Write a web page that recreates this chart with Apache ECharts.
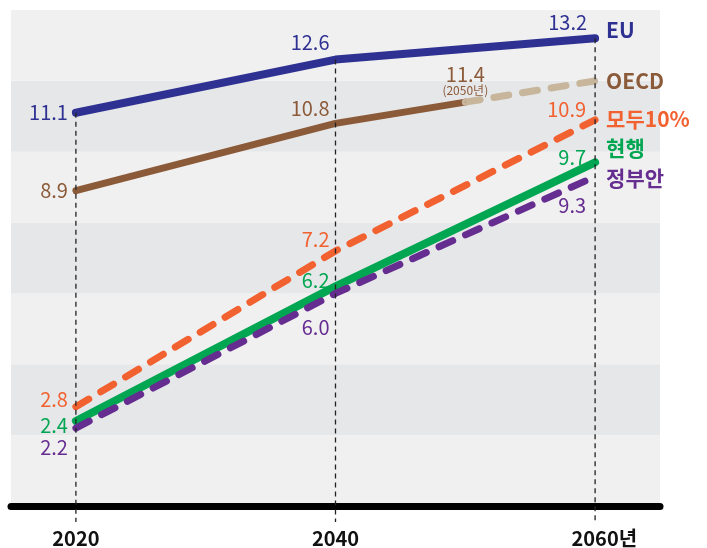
<!DOCTYPE html>
<html>
<head>
<meta charset="utf-8">
<script src="https://cdn.jsdelivr.net/npm/echarts@6/dist/echarts.min.js"></script>
<style>
    html, body { margin: 0; padding: 0; background: #fff; }
    #chart { width: 707px; height: 548px; }
</style>
</head>
<body>
<div id="chart"></div>
<script>
// 데이터
var years = [2020, 2040, 2060];
var xTickLabels = ['2020', '2040', '2060년'];
var euValues = [11.1, 12.6, 13.2];
var oecdYears = [2020, 2040, 2050];
var oecdValues = [8.9, 10.8, 11.4];
var oecdProjYears = [2050, 2060];
var oecdProjValues = [11.4, 12.0];
var allTenValues = [2.8, 7.2, 10.9];
var currentValues = [2.4, 6.2, 9.7];
var govValues = [2.2, 6.0, 9.3];

var FONT = '"Noto Sans CJK KR", "Noto Sans", sans-serif';

var dom = document.getElementById('chart');
var myChart = echarts.init(dom);

// 각 점의 값 라벨 (오른쪽 끝 기준)
function points(xs, ys, offsets, color) {
    var out = [];
    for (var i = 0; i < ys.length; i++) {
        var item = { value: [xs[i], ys[i]] };
        if (offsets[i]) {
            item.label = {
                show: true,
                position: 'inside',
                align: 'right',
                verticalAlign: 'middle',
                offset: offsets[i],
                color: color,
                fontSize: 20,
                fontFamily: FONT,
                formatter: ys[i].toFixed(1)
            };
        } else {
            item.label = { show: false };
        }
        out.push(item);
    }
    return out;
}

function lineSeries(name, data, color, width, dashed, endOffset, endColor) {
    return {
        name: name,
        type: 'line',
        data: data,
        symbol: 'circle',
        symbolSize: 1,
        itemStyle: { color: color },
        lineStyle: {
            color: color,
            width: width,
            type: dashed ? [15, 14] : 'solid',
            cap: 'round',
            join: 'round'
        },
        endLabel: endOffset ? {
            show: true,
            formatter: name,
            distance: 0,
            offset: endOffset,
            color: endColor || color,
            fontSize: 21,
            fontWeight: 'bold',
            fontFamily: FONT
        } : { show: false },
        label: { show: false },
        emphasis: { disabled: true },
        z: 3
    };
}

var oecdSolid = lineSeries('OECD', points(oecdYears, oecdValues, [[-8, 0], [-6, -15], null], '#8b5a38'), '#8b5a38', 7, false);
// 2050년 라벨
oecdSolid.data[2].label = {
    show: true,
    position: 'inside',
    align: 'center',
    verticalAlign: 'middle',
    offset: [0, -21],
    color: '#8b5a38',
    fontFamily: FONT,
    formatter: '{a|' + oecdValues[2].toFixed(1) + '}\n{b|(2050년)}',
    rich: {
        a: { fontSize: 20, lineHeight: 18, color: '#8b5a38', fontFamily: FONT },
        b: { fontSize: 12, lineHeight: 14, color: '#8b5a38', fontFamily: FONT }
    }
};

var oecdProj = lineSeries('OECD', points(oecdProjYears, oecdProjValues, [null, null], '#c8b69c'), '#c8b69c', 7, true, [11, 0], '#8b5a38');

var euSeries = lineSeries('EU', points(years, euValues, [[-8, 0], [-6, -17], [-8, -16]], '#2e3192'), '#2e3192', 8, false, [11, -8]);
var allTenSeries = lineSeries('모두10%', points(years, allTenValues, [[-8, -7], [-6, -12], [-9, -10]], '#f26130'), '#f26130', 7, true, [11, -1]);
var currentSeries = lineSeries('현행', points(years, currentValues, [[-8, 4], [-6, -6], [-9, -5]], '#00a651'), '#00a651', 8, false, [11, -14]);
var govSeries = lineSeries('정부안', points(years, govValues, [[-8, 19], [-6, 34], [-9, 29]], '#662d91'), '#662d91', 7, true, [11, 2]);

// 연도별 점선 (EU 값에서 축 아래까지)
var guideSeries = years.map(function (y, i) {
    return {
        type: 'line',
        data: [[y, euValues[i]], [y, -0.45]],
        symbol: 'none',
        clip: false,
        silent: true,
        lineStyle: { color: '#222', type: [5, 4], width: 1.3 },
        emphasis: { disabled: true },
        z: 4
    };
});

var option = {
    animation: false,
    backgroundColor: '#fff',
    grid: { left: 11, right: 47, top: 10, bottom: 42 },
    xAxis: {
        type: 'value',
        min: 2015,
        max: 2065,
        interval: 5,
        axisLine: { show: true, lineStyle: { color: '#000', width: 7, cap: 'round' } },
        axisTick: { show: false },
        splitLine: { show: false },
        axisLabel: {
            margin: 22,
            color: '#111',
            fontSize: 20,
            fontWeight: 'bold',
            fontFamily: FONT,
            showMinLabel: true,
            showMaxLabel: true,
            formatter: function (v) {
                var idx = years.indexOf(v);
                if (idx < 0) return '';
                var t = xTickLabels[idx];
                // '년' 만큼 왼쪽에 빈칸을 넣어 숫자를 눈금 가운데에 맞춤
                if (t.length > 4) return '{h|' + t.slice(4) + '}' + t;
                return t;
            },
            rich: {
                h: { color: 'rgba(0,0,0,0)', fontSize: 20, fontWeight: 'bold', fontFamily: FONT }
            }
        }
    },
    yAxis: {
        type: 'value',
        min: 0,
        max: 14,
        interval: 2,
        axisLine: { show: false },
        axisTick: { show: false },
        axisLabel: { show: false },
        splitLine: { show: false },
        splitArea: { show: true, areaStyle: { color: ['#f0f0f0', '#e6e7e9'] } }
    },
    series: [oecdSolid, oecdProj, euSeries, allTenSeries, currentSeries, govSeries].concat(guideSeries)
};

myChart.setOption(option);
</script>
</body>
</html>
